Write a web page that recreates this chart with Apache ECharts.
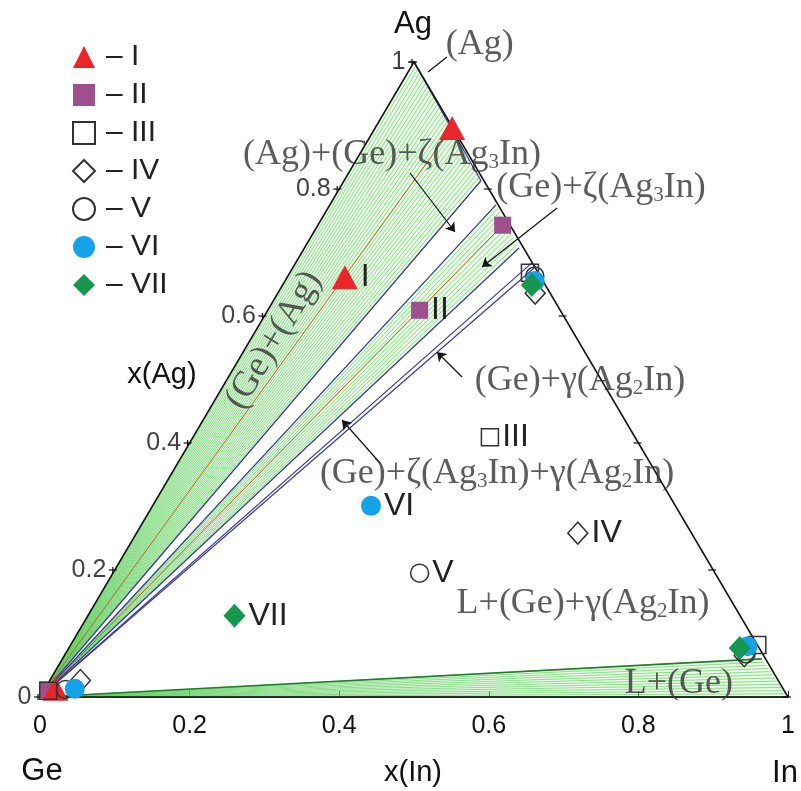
<!DOCTYPE html>
<html><head><meta charset="utf-8">
<script src="https://cdn.jsdelivr.net/npm/echarts@6/dist/echarts.min.js"></script>
<style>html,body{margin:0;padding:0;background:#fff}#c{width:801px;height:791px}</style>
</head><body><div id="c"></div>
<script>
// ---------------- data (ternary compositions: [x(In), x(Ag)], x(Ge) = 1 - sum) ----------------
const ternTicks = [0, 0.2, 0.4, 0.6, 0.8, 1];
const sampleNames = ['I', 'II', 'III', 'IV', 'V', 'VI', 'VII'];
// first point = alloy composition, others = phase compositions
const sampleI   = [[0.077, 0.661], [0.103, 0.896], [0.014, 0.013]];
const sampleII  = [[0.203, 0.609], [0.247, 0.743], [0.005, 0.011]];
const sampleIII = [[0.397, 0.409], [0.321, 0.668], [0.918, 0.082], [0.006, 0.010]];
const sampleIV  = [[0.590, 0.258], [0.344, 0.636], [0.909, 0.065], [0.041, 0.026]];
const sampleV   = [[0.410, 0.195], [0.330, 0.663], [0.910, 0.068], [0.028, 0.012]];
const sampleVI  = [[0.292, 0.301], [0.334, 0.655], [0.906, 0.080], [0.040, 0.013]];
const sampleVII = [[0.196, 0.128], [0.333, 0.649], [0.897, 0.077]];

const geCorner = [0, 0], inCorner = [1, 0], agCorner = [0, 1];
const agLimit   = [0.183, 0.813];
const zetaHigh  = [0.222, 0.775];
const zetaLow   = [0.287, 0.707];
const gammaHigh = [0.316, 0.684];
const gammaLow  = [0.323, 0.676];
const liquidPt  = [0.935, 0.060];

// ---------------- helpers / styles ----------------
const T = p => [p[0] + p[1] / 2, p[1]];   // ternary -> plot coords
const serif = 'Liberation Serif', sans = 'Liberation Sans';
const txt = '#333';
const samples = [sampleI, sampleII, sampleIII, sampleIV, sampleV, sampleVI, sampleVII];
const sampleStyles = [
  { symbol: 'triangle', size: [26, 24], color: '#e8262c', z: 11 },
  { symbol: 'rect', size: 17, color: '#9e4f8d', z: 10 },
  { symbol: 'rect', size: 17, empty: true, z: 12 },
  { symbol: 'diamond', size: [20, 22], empty: true, z: 13 },
  { symbol: 'circle', size: 18, empty: true, z: 14 },
  { symbol: 'circle', size: 20, color: '#16a2e8', z: 15 },
  { symbol: 'diamond', size: [22, 24], color: '#17964f', z: 16 }
];

// annotation layout (plot coords, not ternary)
const annotations = [
  { text: '(Ag)', at: [0.588, 1.028] },
  { text: '(Ag)+(Ge)+ζ(Ag{s|3}In)', at: [0.4706, 0.8535] },
  { text: '(Ge)+ζ(Ag{s|3}In)', at: [0.750, 0.8016] },
  { text: '(Ge)+γ(Ag{s|2}In)', at: [0.7219, 0.4976] },
  { text: '(Ge)+ζ(Ag{s|3}In)+γ(Ag{s|2}In)', at: [0.611, 0.3512] },
  { text: 'L+(Ge)+γ(Ag{s|2}In)', at: [0.726, 0.1465] },
  { text: 'L+(Ge)', at: [0.854, 0.0205] },
  { text: '(Ge)+(Ag)', at: [0.3128, 0.562], rotate: 59 }
];
const leaderLines = [[[0.544, 1.008], [0.5187, 0.9843]]];
const arrowLines = [
  [[0.4947, 0.8252], [0.5548, 0.7323]],
  [[0.6912, 0.7701], [0.5909, 0.6772]],
  [[0.5642, 0.5039], [0.5307, 0.5433]],
  [[0.4545, 0.3685], [0.4037, 0.4362]]
];

function region(apex, b, c, n, fill, hatch) {
  return {
    type: 'custom', coordinateSystem: 'cartesian2d', silent: true, z: 1, clip: false,
    data: [[0, 0]],
    renderItem: (params, api) => {
      const A = api.coord(T(apex)), B = api.coord(T(b)), C = api.coord(T(c));
      const ch = [{ type: 'polygon', shape: { points: [A, B, C] }, style: { fill: fill } }];
      for (let k = 0; k <= n; k++) {
        const f = k / n;
        ch.push({ type: 'line', shape: { x1: A[0], y1: A[1], x2: B[0] + (C[0] - B[0]) * f, y2: B[1] + (C[1] - B[1]) * f },
          style: { stroke: hatch, lineWidth: 0.7 } });
      }
      return { type: 'group', children: ch };
    }
  };
}
function segs(list, color, width, z, tern) {
  const f = tern === false ? (p => p) : T;
  return {
    type: 'lines', coordinateSystem: 'cartesian2d', silent: true, z: z, clip: false,
    lineStyle: { color: color, width: width, opacity: 1 },
    data: list.map(s => ({ coords: [f(s[0]), f(s[1])] }))
  };
}

const fillG = 'rgba(190,240,180,0.32)', hatchG = '#62d062';
const series = [
  region(geCorner, agCorner, agLimit, 34, fillG, hatchG),
  region(geCorner, zetaHigh, zetaLow, 12, fillG, hatchG),
  region(geCorner, liquidPt, inCorner, 12, fillG, hatchG),
  segs([[geCorner, agLimit], [agCorner, agLimit], [geCorner, zetaHigh], [geCorner, zetaLow],
        [geCorner, gammaHigh], [geCorner, gammaLow]], '#3b3b98', 1.2, 3),
  segs([[geCorner, liquidPt]], '#1f7f2a', 1.6, 3),
  segs([[geCorner, sampleI[1]], [geCorner, sampleII[1]]], '#b86a2a', 1, 3),
  segs([[geCorner, agCorner], [agCorner, inCorner], [geCorner, inCorner]], '#111', 1.5, 4),
  // ternary tick marks
  {
    type: 'custom', coordinateSystem: 'cartesian2d', silent: true, z: 4, clip: false,
    data: ternTicks.map(a => [a, 0]),
    renderItem: (params, api) => {
      const a = api.value(0);
      const L = api.coord(T([0, a])), R = api.coord(T([1 - a, a]));
      const st = { stroke: '#111', lineWidth: 1.2 };
      return { type: 'group', children: [
        { type: 'line', shape: { x1: L[0] - 6, y1: L[1], x2: L[0] + 2, y2: L[1] }, style: st },
        { type: 'line', shape: { x1: L[0] - 2, y1: L[1] - 3, x2: L[0] - 2, y2: L[1] + 3 }, style: st },
        { type: 'line', shape: { x1: R[0] - 5, y1: R[1], x2: R[0] + 3, y2: R[1] }, style: st }
      ] };
    }
  },
  // left tick labels
  {
    type: 'scatter', silent: true, z: 5, clip: false, symbolSize: 1, itemStyle: { color: 'rgba(0,0,0,0)' },
    data: ternTicks.map(a => ({ value: T([0, a]), name: String(a) })),
    label: { show: true, position: 'left', distance: 8, formatter: '{b}', fontFamily: sans, fontSize: 25, color: '#111' }
  },
  // leader + arrows
  segs(leaderLines, '#111', 1.2, 6, false),
  Object.assign(segs(arrowLines, '#111', 1.2, 6, false), { symbol: ['none', 'arrow'], symbolSize: 9 }),
  // annotation texts
  {
    type: 'scatter', silent: true, z: 7, clip: false, symbolSize: 1, itemStyle: { color: 'rgba(0,0,0,0)' },
    data: annotations.map(a => ({ value: a.at, label: { formatter: a.text, rotate: a.rotate || 0 } })),
    label: { show: true, position: 'inside', fontFamily: serif, fontSize: 36, color: txt,
      rich: { s: { fontFamily: serif, fontSize: 21, color: txt, verticalAlign: 'bottom' } } }
  }
];

samples.forEach((pts, i) => {
  const st = sampleStyles[i];
  series.push({
    type: 'scatter', name: sampleNames[i], z: st.z, clip: false,
    symbol: st.symbol, symbolSize: st.size,
    itemStyle: st.empty ? { color: 'rgba(255,255,255,0)', borderColor: '#333', borderWidth: 1.5, opacity: 1 } : { color: st.color, opacity: 1 },
    label: { show: false, position: 'right', distance: 3, formatter: sampleNames[i], fontFamily: sans, fontSize: 32, color: '#222' },
    data: pts.map((p, j) => ({ value: T(p), label: { show: j === 0 } }))
  });
});

const chart = echarts.init(document.getElementById('c'));
chart.setOption({
  animation: false,
  backgroundColor: '#fff',
  grid: { left: 40, right: 13, top: 62, bottom: 94, containLabel: false },
  xAxis: { type: 'value', min: 0, max: 1, interval: 0.2,
    axisLine: { show: true, lineStyle: { color: '#111', width: 1.5 } },
    axisTick: { show: true, inside: true, length: 6, lineStyle: { color: '#111' } },
    axisLabel: { margin: 17, fontFamily: sans, fontSize: 25, color: '#111' },
    splitLine: { show: false } },
  yAxis: { type: 'value', min: 0, max: 1, show: false },
  legend: {
    orient: 'vertical', left: 67, top: 37, itemWidth: 22, itemHeight: 22, itemGap: 8,
    selectedMode: false, data: sampleNames, formatter: n => '– ' + n,
    textStyle: { fontFamily: sans, fontSize: 30, color: '#222', lineHeight: 26, padding: [0, 0, 0, 6] }
  },
  graphic: [
    { type: 'text', x: 413, y: 24, style: { text: 'Ag', font: '31px "Liberation Sans"', fill: '#111', align: 'center', verticalAlign: 'middle', textAlign: 'center', textVerticalAlign: 'middle' } },
    { type: 'text', x: 42, y: 771, style: { text: 'Ge', font: '31px "Liberation Sans"', fill: '#111', align: 'center', verticalAlign: 'middle', textAlign: 'center', textVerticalAlign: 'middle' } },
    { type: 'text', x: 785, y: 773, style: { text: 'In', font: '31px "Liberation Sans"', fill: '#111', align: 'center', verticalAlign: 'middle', textAlign: 'center', textVerticalAlign: 'middle' } },
    { type: 'text', x: 413, y: 773, style: { text: 'x(In)', font: '29px "Liberation Sans"', fill: '#111', align: 'center', verticalAlign: 'middle', textAlign: 'center', textVerticalAlign: 'middle' } },
    { type: 'text', x: 162, y: 375, style: { text: 'x(Ag)', font: '29px "Liberation Sans"', fill: '#111', align: 'center', verticalAlign: 'middle', textAlign: 'center', textVerticalAlign: 'middle' } }
  ],
  series: series
});
</script></body></html>
